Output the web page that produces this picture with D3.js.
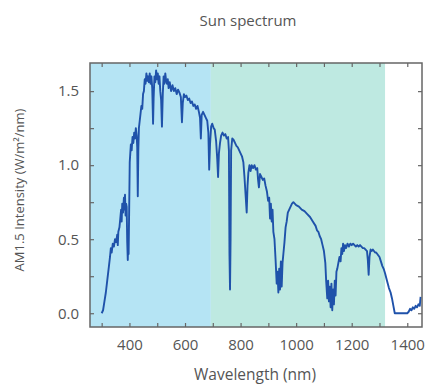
<!DOCTYPE html>
<html>
<head>
<meta charset="utf-8">
<script src="https://cdn.jsdelivr.net/npm/d3@7"></script>
<style>
  body { margin: 0; background: #fff; }
  text { font-family: "Open Sans", sans-serif; fill: #555; }
</style>
</head>
<body>
<div class="root"></div>
<script>
// wavelength (nm) and AM1.5 intensity (W/m2/nm)
const wavelength = [
  300, 305, 310, 315, 320, 325, 330, 333, 336, 340, 344, 348, 352, 356, 358, 360, 364, 367, 370, 372,
  374, 377, 380, 382, 384, 386, 388, 390, 392, 394, 396, 397, 399, 401, 403, 405, 408, 411, 414, 417,
  420, 423, 426, 428, 430, 432, 434, 437, 440, 443, 446, 449, 452, 455, 458, 461, 464, 467, 470, 473,
  476, 479, 482, 485, 487, 490, 493, 496, 499, 502, 505, 508, 511, 514, 517, 520, 523, 526, 529, 532,
  535, 538, 541, 545, 550, 555, 560, 565, 570, 575, 580, 585, 589, 592, 596, 600, 605, 610, 615, 620,
  625, 630, 635, 640, 645, 650, 654, 657, 660, 665, 670, 675, 680, 684, 687, 690, 694, 698, 703, 707,
  712, 716, 719, 722, 726, 730, 735, 740, 745, 750, 755, 758, 760, 762, 764, 766, 770, 775, 780, 785,
  790, 795, 800, 805, 810, 814, 818, 822, 825, 828, 832, 836, 840, 845, 850, 855, 860, 863, 866, 870,
  875, 880, 885, 890, 895, 899, 903, 906, 909, 912, 915, 918, 922, 926, 930, 933, 936, 939, 942, 945,
  948, 951, 954, 958, 962, 966, 970, 975, 980, 985, 990, 995, 1000, 1010, 1020, 1030, 1040, 1050, 1060, 1070,
  1075, 1080, 1085, 1090, 1095, 1100, 1105, 1108, 1112, 1115, 1118, 1121, 1124, 1127, 1130, 1133, 1136, 1139, 1142, 1145,
  1148, 1152, 1156, 1160, 1163, 1166, 1169, 1172, 1176, 1180, 1185, 1190, 1195, 1200, 1205, 1210, 1215, 1220, 1225, 1230,
  1235, 1240, 1245, 1250, 1255, 1258, 1261, 1264, 1268, 1272, 1276, 1280, 1284, 1288, 1292, 1296, 1300, 1305, 1310, 1315,
  1320, 1327, 1334, 1340, 1345, 1350, 1355, 1360, 1370, 1380, 1390, 1400, 1405, 1410, 1415, 1420, 1425, 1430, 1435, 1440,
  1445, 1448
];
const intensity = [
  0.00, 0.02, 0.08, 0.14, 0.22, 0.30, 0.38, 0.44, 0.41, 0.47, 0.45, 0.50, 0.48, 0.53, 0.46, 0.55, 0.58, 0.64, 0.70, 0.62,
  0.74, 0.68, 0.78, 0.70, 0.80, 0.66, 0.74, 0.72, 0.48, 0.36, 0.55, 0.40, 0.70, 1.02, 1.08, 1.14, 1.10, 1.19, 1.15, 1.22,
  1.18, 1.25, 1.20, 1.12, 0.79, 1.10, 1.25, 1.30, 1.35, 1.40, 1.38, 1.48, 1.50, 1.58, 1.55, 1.62, 1.57, 1.60, 1.56, 1.62,
  1.55, 1.60, 1.52, 1.28, 1.45, 1.60, 1.56, 1.64, 1.58, 1.62, 1.55, 1.60, 1.50, 1.44, 1.26, 1.48, 1.60, 1.55, 1.62, 1.57,
  1.55, 1.58, 1.52, 1.56, 1.50, 1.54, 1.50, 1.52, 1.48, 1.51, 1.49, 1.46, 1.29, 1.42, 1.48, 1.46, 1.47, 1.44, 1.45, 1.42,
  1.43, 1.40, 1.41, 1.38, 1.40, 1.36, 1.32, 1.18, 1.34, 1.36, 1.34, 1.32, 1.30, 1.22, 0.97, 1.14, 1.26, 1.28, 1.25, 1.24,
  1.16, 1.04, 0.92, 1.08, 1.15, 1.20, 1.22, 1.20, 1.21, 1.18, 1.19, 1.10, 0.40, 0.16, 0.50, 1.10, 1.18, 1.17, 1.15, 1.13,
  1.12, 1.10, 1.08, 1.06, 1.02, 0.92, 0.80, 0.68, 0.86, 0.95, 1.00, 0.96, 1.00, 0.98, 1.00, 0.97, 0.98, 0.90, 0.85, 0.94,
  0.92, 0.90, 0.91, 0.86, 0.82, 0.76, 0.78, 0.64, 0.74, 0.62, 0.70, 0.55, 0.50, 0.36, 0.20, 0.28, 0.14, 0.30, 0.16, 0.35,
  0.18, 0.34, 0.40, 0.48, 0.58, 0.62, 0.68, 0.70, 0.72, 0.74, 0.75, 0.74, 0.73, 0.72, 0.70, 0.69, 0.67, 0.65, 0.62, 0.59,
  0.56, 0.55, 0.52, 0.50, 0.46, 0.42, 0.34, 0.22, 0.10, 0.22, 0.08, 0.18, 0.04, 0.20, 0.02, 0.16, 0.06, 0.22, 0.12, 0.28,
  0.30, 0.34, 0.38, 0.35, 0.44, 0.40, 0.47, 0.42, 0.46, 0.44, 0.47, 0.45, 0.47, 0.46, 0.47, 0.46, 0.45, 0.46, 0.45, 0.46,
  0.45, 0.44, 0.44, 0.43, 0.42, 0.36, 0.26, 0.38, 0.43, 0.42, 0.43, 0.42, 0.41, 0.41, 0.40, 0.39, 0.38, 0.35, 0.32, 0.30,
  0.27, 0.22, 0.17, 0.14, 0.10, 0.05, 0.00, 0.00, 0.00, 0.00, 0.00, 0.00, 0.01, 0.03, 0.02, 0.04, 0.03, 0.05, 0.04, 0.06,
  0.05, 0.11
];

// shaded wavelength bands behind the curve
const bandEdges = [258, 693, 1320];
const bandColors = ['#b5e4f4', '#bee9e1'];

const xTicks = [400, 600, 800, 1000, 1200, 1400];
const yTicks = [0.0, 0.5, 1.0, 1.5];

const width = 439;
const height = 385;
const margin = { top: 63, right: 17, bottom: 58, left: 90 };

const svg = d3.select('.root')
  .append('svg')
  .attr('width', width)
  .attr('height', height);

const x = d3.scaleLinear()
  .domain([258, 1453])
  .range([margin.left, width - margin.right]);

const y = d3.scaleLinear()
  .domain([-0.093, 1.69])
  .range([height - margin.bottom, margin.top]);

const plotW = width - margin.right - margin.left;
const plotH = height - margin.bottom - margin.top;

svg.selectAll('.band')
  .data(bandColors)
  .enter()
  .append('rect')
  .attr('class', 'band')
  .attr('x', (d, i) => x(bandEdges[i]))
  .attr('y', margin.top)
  .attr('width', (d, i) => x(bandEdges[i + 1]) - x(bandEdges[i]))
  .attr('height', plotH)
  .attr('fill', d => d);

const points = wavelength.map((w, i) => [w, intensity[i]]);

const line = d3.line()
  .x(d => x(d[0]))
  .y(d => y(d[1]));

svg.append('path')
  .datum(points)
  .attr('fill', 'none')
  .attr('stroke', '#1f52aa')
  .attr('stroke-width', 1.9)
  .attr('stroke-linejoin', 'round')
  .attr('d', line);

// inward ticks on all four sides
const xMinor = d3.range(300, 1450, 100);
const yMinor = d3.range(0, 1.7, 0.25);

const tickStyle = g => g.call(s => s.select('.domain').remove())
  .selectAll('line').attr('stroke', '#666').attr('stroke-width', 1.2);

svg.append('g')
  .attr('transform', `translate(0, ${height - margin.bottom})`)
  .call(d3.axisBottom(x).tickValues(xMinor).tickSize(-4).tickFormat(''))
  .call(tickStyle);

svg.append('g')
  .attr('transform', `translate(0, ${margin.top})`)
  .call(d3.axisTop(x).tickValues(xMinor).tickSize(-4).tickFormat(''))
  .call(tickStyle);

svg.append('g')
  .attr('transform', `translate(${margin.left}, 0)`)
  .call(d3.axisLeft(y).tickValues(yMinor).tickSize(-4).tickFormat(''))
  .call(tickStyle);

svg.append('g')
  .attr('transform', `translate(${width - margin.right}, 0)`)
  .call(d3.axisRight(y).tickValues(yMinor).tickSize(-4).tickFormat(''))
  .call(tickStyle);

// tick labels
const xAxis = svg.append('g')
  .attr('transform', `translate(0, ${height - margin.bottom})`)
  .call(d3.axisBottom(x).tickValues(xTicks).tickSize(0).tickPadding(12).tickFormat(d3.format('d')));
xAxis.select('.domain').remove();
xAxis.selectAll('text').style('font-size', '15px').attr('fill', '#555');

const yAxis = svg.append('g')
  .attr('transform', `translate(${margin.left}, 0)`)
  .call(d3.axisLeft(y).tickValues(yTicks).tickSize(0).tickPadding(11).tickFormat(d3.format('.1f')));
yAxis.select('.domain').remove();
yAxis.selectAll('text').style('font-size', '15px').attr('fill', '#555');

svg.append('rect')
  .attr('x', margin.left)
  .attr('y', margin.top)
  .attr('width', plotW)
  .attr('height', plotH)
  .attr('fill', 'none')
  .attr('stroke', '#666')
  .attr('stroke-width', 1.5);

svg.append('text')
  .attr('x', 248)
  .attr('y', 26)
  .attr('text-anchor', 'middle')
  .style('font-size', '15px')
  .text('Sun spectrum');

svg.append('text')
  .attr('x', 255)
  .attr('y', 380)
  .attr('text-anchor', 'middle')
  .style('font-size', '15.5px')
  .text('Wavelength (nm)');

svg.append('text')
  .attr('transform', 'translate(24, 190) rotate(-90)')
  .attr('text-anchor', 'middle')
  .style('font-size', '13px')
  .text('AM1.5 Intensity (W/m²/nm)');
</script>
</body>
</html>
